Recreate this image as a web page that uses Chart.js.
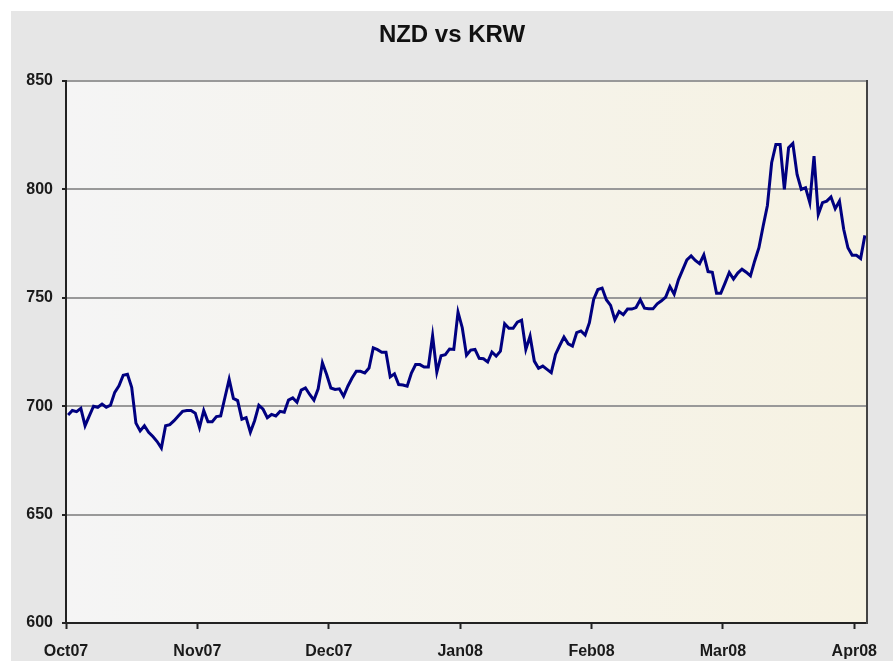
<!DOCTYPE html>
<html lang="en">
<head>
  <title>NZD vs KRW</title>
  <meta charset="utf-8">
  <script src="https://cdn.jsdelivr.net/npm/chart.js@4.4.0/dist/chart.umd.min.js"></script>
  <style>
  body { margin: 0; background: #fff; }
  canvas { display: block; }
  </style>
</head>
<body>

<canvas id="canvas" width="893" height="661"></canvas>

<script>
    // month labels, one every 31 points (Excel category axis tick interval)
    var monthLabels = ['Oct07', 'Nov07', 'Dec07', 'Jan08', 'Feb08', 'Mar08', 'Apr08'];
    var ticksEvery = 31;
    var yTicks = [600, 650, 700, 750, 800, 850];
    var chartTitle = 'NZD vs KRW';

    // daily NZD/KRW
    var octNov = [695.9, 698, 697.5, 699, 691, 695.5, 700, 699.5, 701, 699.5,
      700.5, 706.4, 709.4, 714.3, 714.7, 708.7, 692.2, 688.6, 691, 688,
      686, 683.7, 680.7, 691, 691.5, 693.3, 695.5, 697.6, 698, 698,
      696.8, 690.2, 698, 692.8, 692.8, 695.2, 695.5, 704, 712.4, 703.6,
      702.6, 694, 694.7, 688, 693.3, 700.4, 698.6, 694.7, 696.2, 695.5,
      697.6, 697.2, 702.8];
    var novDec = [703.8, 701.8, 707.4, 708.4, 705.4, 702.8, 708, 720, 714.6, 708.4,
      707.7, 708, 704.6, 709.2, 713, 716.1, 716.1, 715.3, 717.6, 726.9,
      726.1, 724.9, 724.9, 713.5, 714.9, 710, 709.8, 709.2, 715.3, 719.2,
      719.2, 718.1, 718.1, 732.5, 715.7, 723.3, 723.8, 726.4];
    var janFeb = [726.2, 743.4, 736.2, 723.5, 725.9, 726.2, 722.1, 721.9, 720.4, 725,
      723.1, 725.4, 738, 735.9, 735.9, 738.8, 739.7, 726.2, 732.3, 720.8,
      717.5, 718.5, 717, 715.5, 723.9, 728, 731.9, 728.8, 727.7, 733.9,
      734.7, 732.8, 738.5, 749.2, 753.8];
    var febMar = [754.5, 749.1, 746.5, 739.9, 743.7, 742.2, 744.8, 744.8, 745.5, 749.1,
      745.2, 744.9, 744.9, 747.2, 748.6, 750.3, 755.2, 751.7, 758.3, 762.9,
      767.5, 769.3, 767.2, 765.7, 769.8, 762.1, 761.8, 752.1, 752.1, 756.8,
      761.7, 758.6, 761.4, 763.2, 761.8, 760.1];
    var marApr = [767, 773.1, 783.1, 792.6, 812.3, 820.7, 820.7, 800, 819.2, 821.2,
      806.9, 800, 800.8, 793.9, 815.3, 788.5, 793.9, 794.6, 796.5, 791.1,
      794.6, 781.6, 773.1, 769.6, 769.6, 768.1, 778.8];

    var rates = octNov.concat(novDec, janFeb, febMar, marApr);

    // pick a narrow font for the axis labels if there is one
    function hasFont(name) {
      var c = document.createElement('canvas').getContext('2d');
      c.font = 'bold 20px monospace';
      var a = c.measureText('Oct07 850').width;
      c.font = 'bold 20px "' + name + '", monospace';
      return c.measureText('Oct07 850').width !== a;
    }
    var tickFont = hasFont('Liberation Sans Narrow')
      ? { family: '"Liberation Sans Narrow", "Arial Narrow"', size: 18, weight: 'bold' }
      : { family: '"Liberation Sans", Arial, sans-serif', size: 16, weight: 'bold' };

    var backdrop = {
      id: 'backdrop',
      beforeDraw: function(chart) {
        var ctx = chart.ctx, a = chart.chartArea;
        ctx.save();
        ctx.fillStyle = '#ffffff';
        ctx.fillRect(0, 0, chart.width, chart.height);
        ctx.fillStyle = '#e6e6e6';
        ctx.fillRect(11, 11, chart.width - 11, chart.height - 11);
        var g = ctx.createLinearGradient(a.left, 0, a.right, 0);
        g.addColorStop(0, '#f5f5f5');
        g.addColorStop(1, '#f6f2e2');
        ctx.fillStyle = g;
        ctx.fillRect(a.left, a.top, a.right - a.left, a.bottom - a.top);
        ctx.restore();
      },
      afterDraw: function(chart) {
        var ctx = chart.ctx, a = chart.chartArea;
        ctx.save();
        ctx.strokeStyle = '#444';
        ctx.lineWidth = 2;
        ctx.beginPath();
        ctx.moveTo(a.right, a.top - 1);
        ctx.lineTo(a.right, a.bottom + 1);
        ctx.stroke();
        // title, centred on the grey panel
        ctx.fillStyle = '#111';
        ctx.font = 'bold 24px "Liberation Sans", Arial, sans-serif';
        ctx.textAlign = 'center';
        ctx.textBaseline = 'alphabetic';
        ctx.fillText(chartTitle, (11 + chart.width) / 2, 42);
        ctx.restore();
      }
    };

    var ctx = document.getElementById('canvas').getContext('2d');
    window.myLine = new Chart(ctx, {
      type: 'line',
      data: {
        datasets: [{
          label: chartTitle,
          data: rates.map(function(v, i) { return { x: i + 0.5, y: v }; }),
          borderColor: '#000080',
          borderWidth: 3,
          pointRadius: 0,
          tension: 0,
          fill: false
        }]
      },
      options: {
        responsive: false,
        animation: false,
        devicePixelRatio: 1,
        layout: { padding: { left: 11, top: 81, right: 26, bottom: 0 } },
        plugins: {
          legend: { display: false },
          tooltip: { enabled: false },
          title: { display: false }
        },
        scales: {
          x: {
            type: 'linear',
            min: 0,
            max: rates.length,
            afterBuildTicks: function(s) {
              s.ticks = monthLabels.map(function(l, i) { return { value: i * ticksEvery }; });
            },
            afterFit: function(s) { s.height = 38; },
            ticks: {
              autoSkip: false,
              maxRotation: 0,
              padding: 13,
              color: '#1a1a1a',
              font: tickFont,
              callback: function(v) { return monthLabels[Math.round(v / ticksEvery)]; }
            },
            grid: { drawOnChartArea: false, tickLength: 6, tickColor: '#222', tickWidth: 2 },
            border: { color: '#222', width: 2 }
          },
          y: {
            min: 600,
            max: 850,
            afterBuildTicks: function(s) {
              s.ticks = yTicks.map(function(v) { return { value: v }; });
            },
            afterFit: function(s) { s.width = 55; },
            ticks: { padding: 9, color: '#1a1a1a', font: tickFont },
            grid: { color: '#999', lineWidth: 2, tickLength: 4, tickColor: '#222', tickWidth: 2 },
            border: { color: '#222', width: 2 }
          }
        }
      },
      plugins: [backdrop]
    });
</script>

</body>
</html>
